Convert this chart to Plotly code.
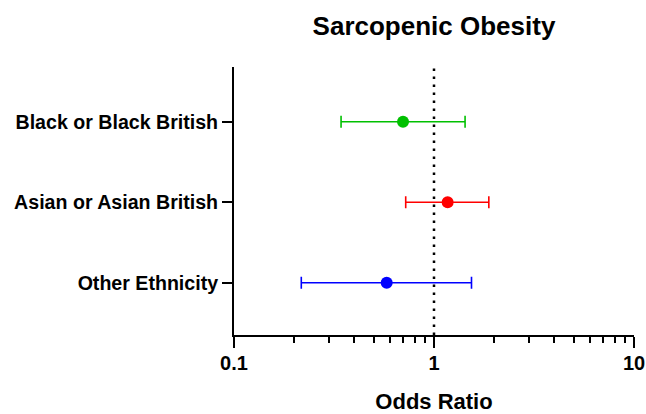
import plotly.graph_objects as go

# Odds ratios with 95% confidence intervals by ethnic group
groups = ["Black or Black British", "Asian or Asian British", "Other Ethnicity"]
odds_ratio = [0.70, 1.17, 0.58]
ci_low = [0.343, 0.722, 0.217]
ci_high = [1.43, 1.88, 1.54]
colors = ["#00c000", "#ff0000", "#0000ff"]
row_pos = [3, 2, 1]

FONT = "Liberation Sans, Arial, sans-serif"

fig = go.Figure()
for name, orv, lo, hi, col, yp in zip(groups, odds_ratio, ci_low, ci_high, colors, row_pos):
    fig.add_trace(go.Scatter(
        x=[orv], y=[yp], mode="markers", name=name,
        marker=dict(color=col, size=12, symbol="circle"),
        error_x=dict(type="data", symmetric=False,
                     array=[hi - orv], arrayminus=[orv - lo],
                     color=col, thickness=1.6, width=6),
        showlegend=False,
    ))

# Reference line at OR = 1
fig.add_shape(type="line", xref="x", yref="paper", x0=1, x1=1, y0=0, y1=1,
              line=dict(color="black", width=2.5, dash="2.5px,5.5px"), layer="below")

fig.update_layout(
    width=646, height=414,
    margin=dict(l=234, r=12, t=67, b=79, autoexpand=False),
    plot_bgcolor="white", paper_bgcolor="white",
    title=dict(text="<b>Sarcopenic Obesity</b>", x=0.5, xref="paper",
               y=1 - 26 / 414, yref="container", xanchor="center", yanchor="middle",
               font=dict(family=FONT, size=26, color="black")),
    font=dict(family=FONT, color="black"),
)

fig.update_xaxes(
    type="log", range=[-1, 1], automargin=False,
    tickvals=[0.1, 1, 10], ticktext=["<b>0.1</b>", "<b>1</b>", "<b>10</b>"],
    ticks="outside", ticklen=11, tickwidth=2, tickcolor="black",
    minor=dict(ticks="outside", ticklen=6, tickwidth=2, tickcolor="black", dtick="D1", showgrid=False),
    showline=True, linecolor="black", linewidth=2,
    showgrid=False, zeroline=False,
    tickfont=dict(family=FONT, size=20, color="black"),
    ticklabelstandoff=-2,
    title=dict(text="<b>Odds Ratio</b>", font=dict(family=FONT, size=22, color="black"), standoff=23),
)

fig.update_yaxes(
    range=[0.35, 3.68], automargin=False,
    tickvals=row_pos, ticktext=[f"<b>{g}</b>" for g in groups],
    ticks="outside", ticklen=10, tickwidth=2, tickcolor="black",
    showline=True, linecolor="black", linewidth=2,
    showgrid=False, zeroline=False,
    tickfont=dict(family=FONT, size=19.6, color="black"),
    ticklabelstandoff=0,
)

fig.write_html("out.html")
